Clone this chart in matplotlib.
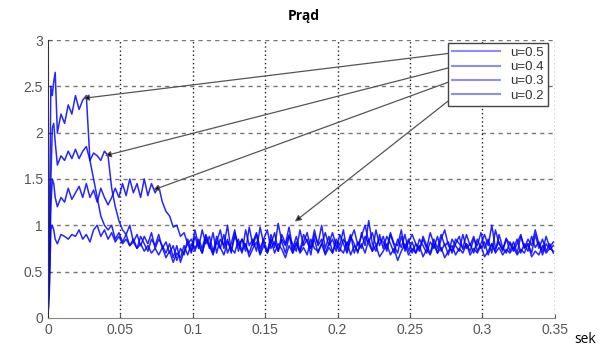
import numpy as np
import matplotlib
matplotlib.use("Agg")
import matplotlib.pyplot as plt
from matplotlib.lines import Line2D

# time axis: fine start, then 2.5 ms steps
t = np.concatenate([[0, 0.001, 0.002, 0.003, 0.004, 0.005],
                    np.arange(138) * 0.0025 + 0.0065])

labels = ["u=0.5", "u=0.4", "u=0.3", "u=0.2"]

i_05 = [0, 1.0, 2.5, 2.4, 2.55, 2.65, 2.0, 2.2, 2.1, 2.3, 2.2, 2.4,
        2.25, 2.35, 2.4, 1.7, 1.5, 1.3, 1.1, 1.0, 0.95, 1.0, 0.85, 0.92,
        0.82, 0.9, 0.78, 0.85, 0.75, 0.88, 0.8, 0.72, 0.85, 0.78, 0.9, 0.75,
        0.82, 0.7, 0.78, 0.62, 0.75, 0.68, 0.85, 0.72, 0.95, 0.78, 0.7, 0.88,
        0.75, 0.92, 0.7, 0.85, 0.78, 1.0, 0.72, 0.88, 0.8, 0.7, 0.95, 0.78,
        0.85, 0.72, 0.98, 0.8, 0.7, 0.9, 0.76, 1.02, 0.82, 0.7, 0.88, 0.8,
        0.72, 0.95, 0.78, 0.85, 0.68, 0.9, 0.8, 1.0, 0.75, 0.88, 0.7, 0.85,
        0.78, 0.95, 0.72, 0.88, 0.8, 0.7, 0.92, 0.78, 1.05, 0.8, 0.72, 0.9,
        0.75, 0.88, 0.8, 0.7, 0.85, 0.76, 0.9, 0.72, 0.82, 0.7, 0.85, 0.78,
        0.7, 0.82, 0.75, 0.88, 0.72, 0.8, 0.68, 0.85, 0.78, 0.72, 0.9, 0.75,
        0.8, 0.7, 0.85, 0.75, 0.82, 0.68, 0.8, 0.72, 0.9, 0.76, 0.7, 0.82,
        0.75, 0.85, 0.7, 0.8, 0.72, 0.88, 0.76, 0.82, 0.68, 0.8, 0.74, 0.78]

i_04 = [0, 0.6, 1.5, 2.05, 2.1, 1.9, 1.65, 1.75, 1.7, 1.8, 1.72, 1.82,
        1.72, 1.8, 1.85, 1.7, 1.78, 1.75, 1.7, 1.8, 1.75, 1.4, 1.2, 1.05,
        0.95, 0.9, 1.0, 0.82, 0.9, 0.78, 0.88, 0.8, 0.92, 0.75, 0.85, 0.78,
        0.7, 0.8, 0.65, 0.78, 0.6, 0.72, 0.8, 0.7, 0.88, 0.75, 0.95, 0.8,
        0.88, 0.72, 0.82, 0.95, 0.75, 0.85, 0.7, 0.92, 0.78, 0.85, 0.72, 0.98,
        0.78, 0.9, 0.7, 0.85, 0.95, 0.75, 0.82, 0.72, 0.9, 0.8, 0.98, 0.74,
        0.88, 0.72, 0.82, 0.92, 0.75, 0.85, 0.7, 0.8, 0.92, 0.78, 0.85, 0.72,
        0.9, 0.8, 0.7, 0.85, 0.95, 0.78, 0.88, 1.0, 0.82, 0.92, 0.78, 0.85,
        0.82, 0.72, 0.9, 0.78, 0.7, 0.88, 0.75, 0.85, 0.7, 0.8, 0.72, 0.88,
        0.78, 0.7, 0.85, 0.75, 0.9, 0.78, 0.82, 0.7, 0.8, 0.88, 0.74, 0.8,
        0.72, 0.85, 0.78, 0.92, 0.75, 0.85, 0.7, 0.95, 0.8, 0.74, 0.86, 0.72,
        0.82, 0.7, 0.88, 0.76, 0.8, 0.7, 0.9, 0.75, 0.85, 0.72, 0.8, 0.7]

i_03 = [0, 0.4, 1.2, 1.5, 1.45, 1.3, 1.2, 1.3, 1.25, 1.4, 1.28, 1.35,
        1.42, 1.3, 1.45, 1.3, 1.38, 1.25, 1.4, 1.3, 1.22, 1.3, 1.4, 1.3,
        1.45, 1.32, 1.5, 1.35, 1.45, 1.3, 1.5, 1.32, 1.45, 1.35, 1.42, 1.25,
        1.15, 1.1, 0.98, 1.0, 0.88, 0.92, 0.8, 0.85, 0.75, 0.82, 0.7, 0.85,
        0.78, 0.68, 0.82, 0.75, 0.9, 0.7, 0.8, 0.95, 0.72, 0.85, 0.78, 0.7,
        0.82, 0.92, 0.75, 0.85, 0.7, 0.8, 0.92, 0.72, 0.85, 0.78, 0.9, 0.7,
        0.8, 0.72, 0.9, 0.82, 0.75, 0.95, 0.78, 0.85, 0.7, 0.8, 0.92, 0.78,
        0.72, 0.85, 0.78, 0.9, 0.7, 0.82, 0.75, 0.88, 0.8, 0.72, 0.95, 0.78,
        0.88, 0.75, 0.92, 0.8, 0.78, 0.95, 0.72, 0.82, 0.9, 0.8, 0.75, 0.85,
        0.75, 0.92, 0.8, 0.7, 0.85, 0.95, 0.78, 0.72, 0.85, 0.8, 0.76, 0.9,
        0.78, 0.88, 0.72, 0.8, 0.9, 0.78, 1.0, 0.75, 0.82, 0.72, 0.85, 0.8,
        0.72, 0.8, 0.9, 0.75, 0.85, 0.78, 0.95, 0.8, 0.72, 0.88, 0.76, 0.82]

i_02 = [0, 0.3, 0.95, 1.0, 0.95, 0.85, 0.8, 0.9, 0.88, 0.85, 0.9, 0.88,
        0.95, 0.85, 0.9, 0.82, 0.95, 1.0, 0.88, 0.95, 0.85, 0.92, 0.82, 0.88,
        0.8, 0.85, 0.78, 0.82, 0.75, 0.8, 0.72, 0.78, 0.7, 0.75, 0.68, 0.76,
        0.65, 0.72, 0.6, 0.7, 0.65, 0.78, 0.68, 0.8, 0.72, 0.85, 0.75, 0.9,
        0.8, 0.7, 0.88, 0.76, 0.68, 0.82, 0.75, 0.7, 0.85, 0.72, 0.8, 0.66,
        0.75, 0.82, 0.68, 0.78, 0.72, 0.85, 0.7, 0.8, 0.74, 0.65, 0.78, 0.7,
        0.82, 0.7, 0.76, 0.68, 0.85, 0.75, 0.72, 0.8, 0.68, 0.76, 0.7, 0.82,
        0.75, 0.7, 0.82, 0.68, 0.78, 0.72, 0.8, 0.7, 0.85, 0.72, 0.78, 0.66,
        0.72, 0.8, 0.68, 0.75, 0.62, 0.72, 0.8, 0.68, 0.75, 0.7, 0.78, 0.66,
        0.74, 0.68, 0.8, 0.7, 0.76, 0.65, 0.72, 0.78, 0.68, 0.75, 0.7, 0.8,
        0.68, 0.75, 0.7, 0.78, 0.66, 0.72, 0.8, 0.7, 0.76, 0.68, 0.74, 0.7,
        0.76, 0.68, 0.74, 0.7, 0.8, 0.66, 0.72, 0.68, 0.78, 0.7, 0.75, 0.72]

series = [i_05, i_04, i_03, i_02]

# arrow tips on the curves and their starts at the legend
arrow_tips = [(0.0242, 2.37), (0.0393, 1.75), (0.0725, 1.38), (0.1705, 1.04)]
arrow_starts = [(0.2844, 2.87), (0.2844, 2.73), (0.2844, 2.59), (0.2844, 2.44)]

fig = plt.figure(figsize=(6.07, 3.54), dpi=100)
ax = fig.add_axes([0.079, 0.102, 0.835, 0.785])

for y in series:
    ax.plot(t, y, color="#0000ff", lw=1.1, alpha=0.85)

ax.set_xlim(0, 0.35)
ax.set_ylim(0, 3)
ax.set_xticks(np.arange(0, 0.351, 0.05))
ax.set_yticks(np.arange(0, 3.01, 0.5))
ax.set_xticklabels(["0", "0.05", "0.1", "0.15", "0.2", "0.25", "0.3", "0.35"])
ax.set_yticklabels(["0", "0.5", "1", "1.5", "2", "2.5", "3"])

# grid: dashed gray horizontals, dotted black verticals
for yv in np.arange(0.5, 3.01, 0.5):
    ax.axhline(yv, color="#777777", lw=1.0, ls=(0, (3, 3)), zorder=0)
for xv in np.arange(0.05, 0.351, 0.05):
    ax.axvline(xv, color="#222222", lw=1.0, ls=(0, (1, 2)), zorder=0)

ax.spines["top"].set_visible(False)
ax.spines["right"].set_visible(False)
ax.spines["left"].set_color("#333333")
ax.spines["bottom"].set_color("#888888")
ax.tick_params(direction="in", length=3, labelsize=10, labelcolor="#555555",
               colors="#555555")
for lab in ax.get_xticklabels() + ax.get_yticklabels():
    lab.set_family("Liberation Sans")

for (sx, sy), (tx, ty) in zip(arrow_starts, arrow_tips):
    ax.annotate("", xy=(tx, ty), xytext=(sx, sy),
                arrowprops=dict(arrowstyle="-|>", color="#555555", lw=0.9,
                                mutation_scale=9, shrinkA=0, shrinkB=0,
                                fc="black"))

handles = [Line2D([], [], color="#8c8cff", lw=1.5) for _ in labels]
leg = ax.legend(handles, labels, loc="upper right", bbox_to_anchor=(0.986, 0.99),
                fancybox=False, framealpha=1, edgecolor="#444444",
                prop={"family": "Liberation Sans", "size": 9.5},
                labelcolor="#333333", handlelength=3.6, borderpad=0.3,
                labelspacing=0.15, handletextpad=0.8, borderaxespad=0)
leg.get_frame().set_linewidth(1.0)
leg.set_zorder(10)

fig.text(0.5, 0.955, "Prąd", ha="center", va="center", fontsize=10,
         fontweight="bold", family="Open Sans")
fig.text(0.964, 0.04, "sek", ha="center", va="center", fontsize=10,
         family="Open Sans")

fig.savefig("out.png", dpi=100)
